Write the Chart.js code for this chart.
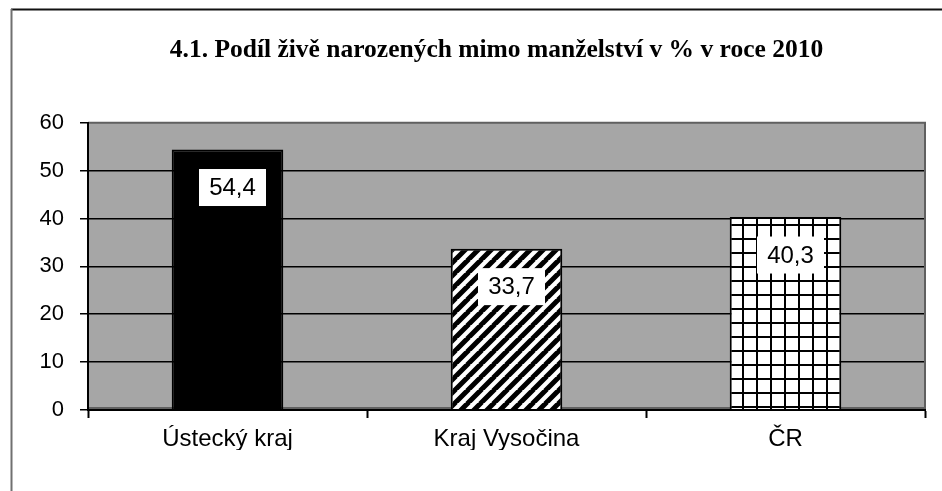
<!DOCTYPE html>
<html><head><meta charset="utf-8">
<script src="https://cdn.jsdelivr.net/npm/chart.js@4"></script>
<style>html,body{margin:0;padding:0;background:#fff;overflow:hidden}</style>
</head><body>
<canvas id="c" width="942" height="491"></canvas>
<script>
const categories = ['Ústecký kraj', 'Kraj Vysočina', 'ČR'];
const values = [54.4, 33.7, 40.3];
const yTicks = [0, 10, 20, 30, 40, 50, 60];
const titleText = '4.1. Podíl živě narozených mimo manželství v % v roce 2010';

const canvas = document.getElementById('c');
const ctx = canvas.getContext('2d');

function makeDiag() {
  const s = 13;
  const c = document.createElement('canvas');
  c.width = s; c.height = s;
  const g = c.getContext('2d');
  g.fillStyle = '#fff'; g.fillRect(0, 0, s, s);
  g.strokeStyle = '#000'; g.lineWidth = 5;
  g.beginPath();
  for (let k = -1; k <= 1; k++) {
    g.moveTo(k * s - 1, s + 1);
    g.lineTo(k * s + s + 1, -1);
  }
  g.stroke();
  return ctx.createPattern(c, 'repeat');
}
function makeGrid() {
  const s = 14;
  const c = document.createElement('canvas');
  c.width = s; c.height = s;
  const g = c.getContext('2d');
  g.fillStyle = '#fff'; g.fillRect(0, 0, s, s);
  g.fillStyle = '#000';
  g.fillRect(0, 0, 2, s);
  g.fillRect(0, 0, s, 2);
  return ctx.createPattern(c, 'repeat');
}

const framePlugin = {
  id: 'frame',
  beforeDraw(chart) {
    const a = chart.chartArea, c = chart.ctx;
    c.save();
    c.fillStyle = '#a6a6a6';
    c.fillRect(a.left, a.top, a.right - a.left, a.bottom - a.top);
    c.restore();
  },
  beforeDatasetsDraw(chart) {
    const a = chart.chartArea, c = chart.ctx;
    c.save();
    c.strokeStyle = '#606060';
    c.lineWidth = 2;
    c.beginPath();
    c.moveTo(a.left, a.top);
    c.lineTo(a.right, a.top);
    c.lineTo(a.right, a.bottom);
    c.moveTo(a.left, a.bottom - 2);
    c.lineTo(a.right, a.bottom - 2);
    c.stroke();
    c.restore();
  },
  afterDraw(chart) {
    const c = chart.ctx;
    c.save();
    // chart title
    c.fillStyle = '#000';
    c.font = 'bold 25.5px "Liberation Serif", "Times New Roman", serif';
    c.textAlign = 'center';
    c.textBaseline = 'alphabetic';
    c.fillText(titleText, 496.5, 57);
    // outer chart frame
    c.strokeStyle = '#111';
    c.lineWidth = 2;
    c.beginPath();
    c.moveTo(11, 9.5); c.lineTo(942, 9.5);
    c.stroke();
    c.strokeStyle = '#707070';
    c.beginPath();
    c.moveTo(11.5, 9); c.lineTo(11.5, 491);
    c.stroke();
    c.restore();
  }
};

const labelPlugin = {
  id: 'vlabels',
  afterDatasetsDraw(chart) {
    const c = chart.ctx;
    const meta = chart.getDatasetMeta(0);
    c.save();
    c.font = '24px "Liberation Sans", Arial, sans-serif';
    c.textAlign = 'center';
    c.textBaseline = 'middle';
    meta.data.forEach((el, i) => {
      const txt = values[i].toFixed(1).replace('.', ',');
      const cx = el.x + 5, cy = el.y + 38;
      const w = 67, h = 37;
      c.fillStyle = '#fff';
      c.fillRect(cx - w / 2, cy - h / 2, w, h);
      c.fillStyle = '#000';
      c.fillText(txt, cx, cy + 1);
    });
    c.restore();
  }
};

new Chart(ctx, {
  type: 'bar',
  data: {
    labels: categories,
    datasets: [{
      data: values,
      backgroundColor: ['#000', makeDiag(), makeGrid()],
      borderColor: '#000',
      borderWidth: 2,
      categoryPercentage: 1,
      barPercentage: 0.4
    }]
  },
  options: {
    responsive: false,
    animation: false,
    layout: { padding: { left: 0, right: 17, top: 122.7, bottom: 41 } },
    plugins: {
      legend: { display: false },
      tooltip: { enabled: false },
      title: { display: false }
    },
    scales: {
      x: {
        grid: { drawOnChartArea: false, offset: true, tickLength: 8, tickColor: '#000', tickWidth: 2 },
        border: { color: '#000', width: 2, z: 1 },
        ticks: { color: '#000', font: { family: '"Liberation Sans", Arial, sans-serif', size: 24 }, padding: 7 },
        afterFit(s) { s.height = 40; }
      },
      y: {
        min: 0, max: 60,
        afterBuildTicks(s) { s.ticks = yTicks.map(v => ({ value: v })); },
        grid: {
          color: (c) => (c.tick && c.tick.value === 60) ? 'rgba(0,0,0,0)' : '#000',
          lineWidth: 1.5, tickLength: 8, tickColor: '#000', tickWidth: 1.5
        },
        border: { color: '#000', width: 2, z: 1 },
        ticks: { color: '#000', font: { family: '"Liberation Sans", Arial, sans-serif', size: 22 }, padding: 16 },
        afterFit(s) { s.width = 88; }
      }
    }
  },
  plugins: [framePlugin, labelPlugin]
});
</script>
</body></html>
